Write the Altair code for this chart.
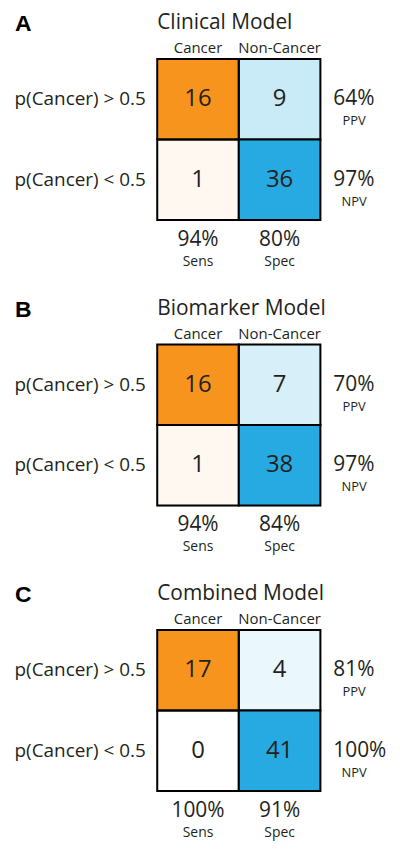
import altair as alt
import pandas as pd

panel_letters = ["A", "B", "C"]
panel_titles = ["Clinical Model", "Biomarker Model", "Combined Model"]
col_labels = ["Cancer", "Non-Cancer"]
row_labels = ["p(Cancer) > 0.5", "p(Cancer) < 0.5"]
true_pos = [16, 16, 17]
false_pos = [9, 7, 4]
false_neg = [1, 1, 0]
true_neg = [36, 38, 41]
ppv = ["64%", "70%", "81%"]
npv = ["97%", "97%", "100%"]
sens = ["94%", "94%", "100%"]
spec = ["80%", "84%", "91%"]
row_stats = ["PPV", "NPV"]
col_stats = ["Sens", "Spec"]

FONT = "Open Sans"
INK = "#231F20"
W, H = 164, 162


def panel(i):
    cells = pd.DataFrame({
        "col": [col_labels[0], col_labels[1], col_labels[0], col_labels[1]],
        "row": [row_labels[0], row_labels[0], row_labels[1], row_labels[1]],
        "n": [true_pos[i], false_pos[i], false_neg[i], true_neg[i]],
    })
    rstats = pd.DataFrame({"row": row_labels, "pct": [ppv[i], npv[i]], "name": row_stats})
    cstats = pd.DataFrame({"col": col_labels, "pct": [sens[i], spec[i]], "name": col_stats})
    head = pd.DataFrame({"letter": [panel_letters[i]], "title": [panel_titles[i]]})

    x_axis = alt.X(
        "col:N", sort=col_labels,
        scale=alt.Scale(paddingInner=0, paddingOuter=0),
        axis=alt.Axis(orient="top", title=None, ticks=False, domain=False, labelAngle=0,
                      labelFontSize=15, labelFont=FONT, labelPadding=3, labelColor=INK),
    )
    y_axis = alt.Y(
        "row:N", sort=row_labels,
        scale=alt.Scale(paddingInner=0, paddingOuter=0),
        axis=alt.Axis(title=None, ticks=False, domain=False,
                      labelFontSize=19, labelFont=FONT, labelPadding=12, labelColor=INK),
    )
    xs = alt.X("col:N", sort=col_labels)
    ys = alt.Y("row:N", sort=row_labels)

    rect = alt.Chart(cells).transform_joinaggregate(
        colmax="max(n)", groupby=["col"]
    ).transform_calculate(
        frac="datum.colmax > 0 ? datum.n / datum.colmax : 0"
    ).mark_rect(stroke="black", strokeWidth=2, strokeOpacity=1).encode(
        x=x_axis, y=y_axis,
        fill=alt.Fill("col:N", scale=alt.Scale(domain=col_labels, range=["#F7941E", "#27AAE1"]), legend=None),
        fillOpacity=alt.FillOpacity("frac:Q", scale=alt.Scale(domain=[0, 1], range=[0, 1]), legend=None),
    )
    counts = alt.Chart(cells).mark_text(fontSize=24, font=FONT, color=INK).encode(
        x=xs, y=ys, text="n:Q"
    )
    rpct = alt.Chart(rstats).mark_text(align="left", fontSize=21, font=FONT, color=INK).encode(
        x=alt.value(W + 13), y=ys, text="pct:N"
    )
    rname = alt.Chart(rstats).mark_text(align="center", fontSize=13, font=FONT, color=INK, dy=22).encode(
        x=alt.value(W + 34), y=ys, text="name:N"
    )
    cpct = alt.Chart(cstats).mark_text(fontSize=21, font=FONT, color=INK).encode(
        x=xs, y=alt.value(H + 20), text="pct:N"
    )
    cname = alt.Chart(cstats).mark_text(fontSize=14, font=FONT, color=INK).encode(
        x=xs, y=alt.value(H + 42), text="name:N"
    )
    lab = alt.Chart(head).mark_text(align="left", baseline="alphabetic", fontSize=23,
                                    fontWeight="bold", font="Liberation Sans", color="black").encode(
        x=alt.value(-143), y=alt.value(-28), text="letter:N"
    )
    ttl = alt.Chart(head).mark_text(align="left", baseline="alphabetic", fontSize=21,
                                    font=FONT, color=INK).encode(
        x=alt.value(0), y=alt.value(-30), text="title:N"
    )
    return alt.layer(rect, counts, rpct, rname, cpct, cname, lab, ttl).properties(width=W, height=H)


chart = alt.vconcat(*[panel(i) for i in range(3)], spacing=27).configure_view(
    stroke=None
).configure(
    background="white",
    padding={"left": 5, "top": 1, "right": 5, "bottom": 5},
)

chart.save("out.html", embed_options={"renderer": "svg", "actions": False})
